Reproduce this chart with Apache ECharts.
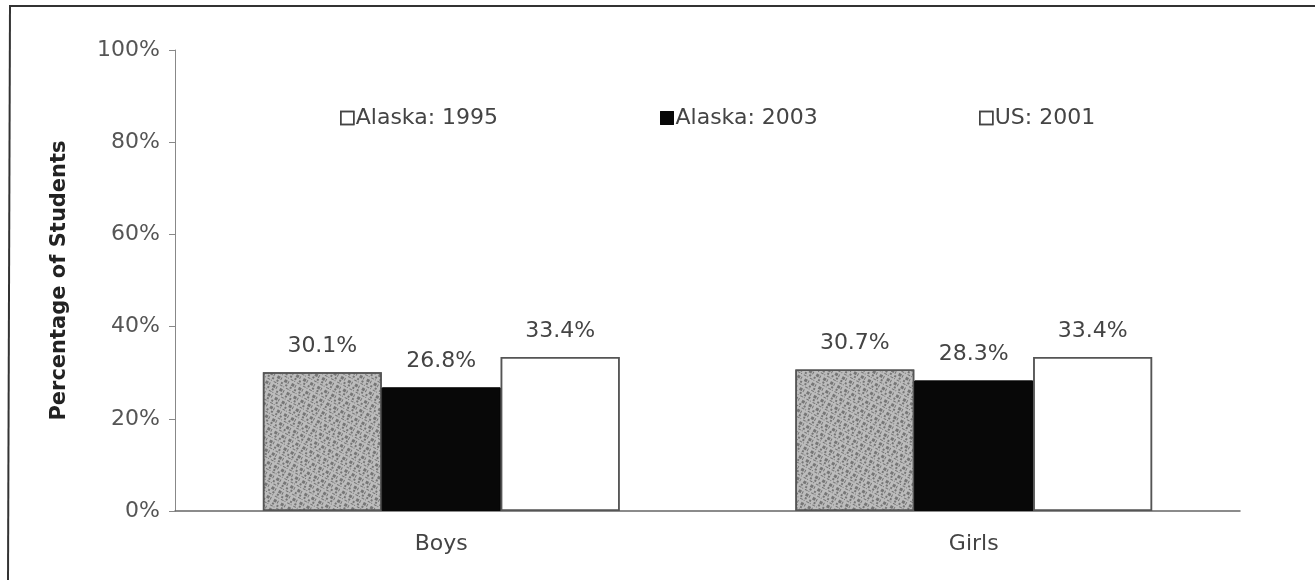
<!DOCTYPE html>
<html>
<head>
<meta charset="utf-8">
<style>
html,body{margin:0;padding:0;background:#fff;}
#chart{width:1315px;height:580px;}
</style>
<script src="https://cdn.jsdelivr.net/npm/echarts@6/dist/echarts.min.js"></script>
</head>
<body>
<div id="chart"></div>
<script>
var categories = ['Boys', 'Girls'];
var seriesNames = ['Alaska: 1995', 'Alaska: 2003', 'US: 2001'];
var alaska1995 = [30.1, 30.7];
var alaska2003 = [26.8, 28.3];
var us2001 = [33.4, 33.4];
var yTicks = [0, 20, 40, 60, 80, 100];

var chart = echarts.init(document.getElementById('chart'));
var font = 'DejaVu Sans, sans-serif';
var labelCfg = {
  show: true, position: 'top', distance: 15,
  formatter: function (p) { return p.value.toFixed(1) + '%'; },
  color: '#444', fontSize: 22, fontFamily: font
};
function legendAt(left, name, iconStyle) {
  return {
    data: [{ name: name, itemStyle: iconStyle }], left: left, top: 102, itemWidth: 13, itemHeight: 13, itemGap: 4,
    icon: 'rect',
    textStyle: { color: '#444', fontSize: 22, fontFamily: font, padding: [0, 0, 0, -3] }
  };
}
chart.setOption({
  animation: false,
  backgroundColor: '#fff',
  aria: { enabled: true, decal: { show: true } },
  graphic: [
    { type: 'line', shape: { x1: 9, y1: 6, x2: 1315, y2: 6 }, style: { stroke: '#333', lineWidth: 2 } },
    { type: 'line', shape: { x1: 10, y1: 6, x2: 8, y2: 580 }, style: { stroke: '#333', lineWidth: 2 } }
  ],
  legend: [
    legendAt(335, seriesNames[0], { color: '#fff', borderColor: '#444', borderWidth: 1.5, decal: { symbol: 'none' } }),
    legendAt(655, seriesNames[1], { color: '#080808', borderColor: '#080808', borderWidth: 1, decal: { symbol: 'none' } }),
    legendAt(974, seriesNames[2], { color: '#fff', borderColor: '#444', borderWidth: 1.5, decal: { symbol: 'none' } })
  ],
  grid: { left: 175, right: 75, top: 50, bottom: 69 },
  xAxis: {
    type: 'category', data: categories,
    axisLine: { lineStyle: { color: '#666', width: 1.5 } },
    axisTick: { show: false },
    axisLabel: { color: '#444', fontSize: 22, fontFamily: font, margin: 22 }
  },
  yAxis: {
    type: 'value', min: 0, max: 100, interval: 20,
    name: 'Percentage of Students', nameLocation: 'middle', nameGap: 105,
    nameTextStyle: { color: '#222', fontSize: 21, fontWeight: 'bold', fontFamily: font },
    axisLine: { show: true, lineStyle: { color: '#888', width: 1 } },
    axisTick: { show: true, length: 6, lineStyle: { color: '#888' } },
    splitLine: { show: false },
    axisLabel: {
      color: '#555', fontSize: 22, fontFamily: font, margin: 15,
      formatter: function (v) { return yTicks.indexOf(v) >= 0 ? v + '%' : ''; }
    }
  },
  series: [
    { name: seriesNames[0], type: 'bar', data: alaska1995, barGap: '0%', barCategoryGap: '33%',
      itemStyle: { color: '#bcbcbc', borderColor: '#555', borderWidth: 1.5,
        decal: { symbol: 'rect', symbolSize: 1, color: 'rgba(60,60,60,0.55)',
          dashArrayX: [[2, 3], [1, 2, 3, 1], [3, 1, 1, 3]], dashArrayY: [2, 1, 1, 2, 3, 1], rotation: 0.5 } },
      label: labelCfg },
    { name: seriesNames[1], type: 'bar', data: alaska2003,
      itemStyle: { color: '#080808', borderColor: '#080808', borderWidth: 1, decal: { symbol: 'none' } }, label: labelCfg },
    { name: seriesNames[2], type: 'bar', data: us2001,
      itemStyle: { color: '#ffffff', borderColor: '#555', borderWidth: 1.5, decal: { symbol: 'none' } }, label: labelCfg }
  ]
});
</script>
</body>
</html>
